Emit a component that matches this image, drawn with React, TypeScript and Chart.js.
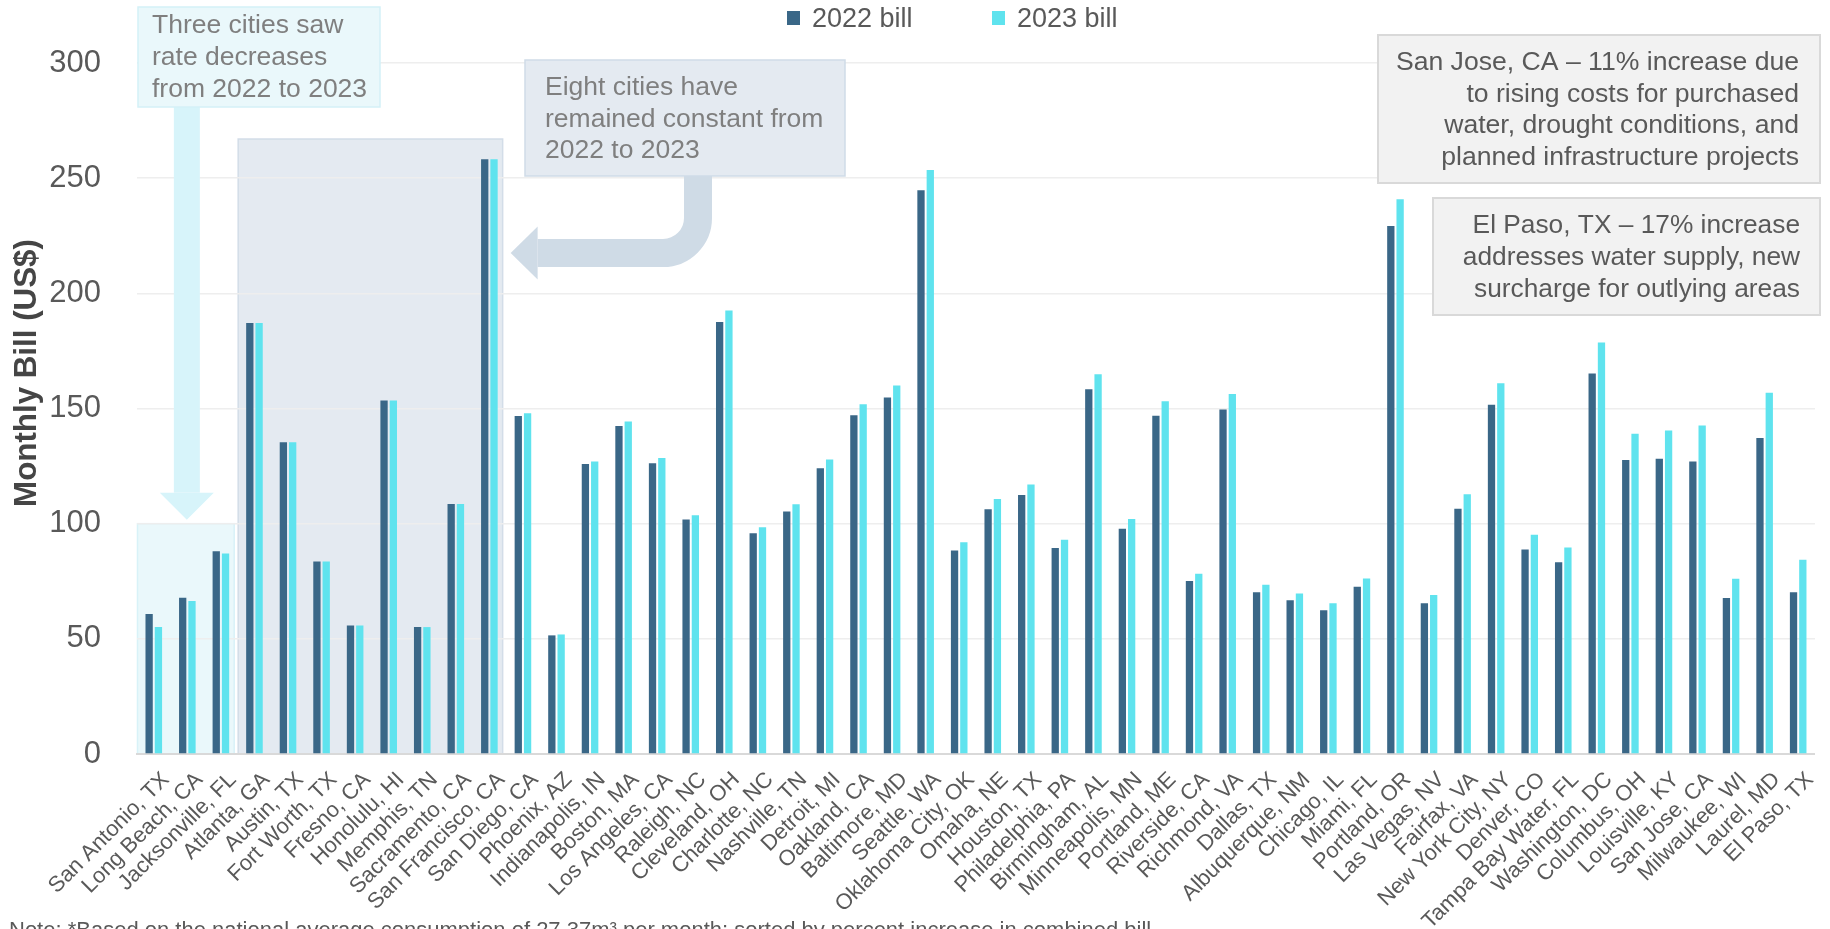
import React, { useEffect, useRef } from "react";
import { Chart, registerables } from "chart.js";

Chart.register(...registerables);

const cities = [
  "San Antonio, TX", "Long Beach, CA", "Jacksonville, FL", "Atlanta, GA", "Austin, TX",
  "Fort Worth, TX", "Fresno, CA", "Honolulu, HI", "Memphis, TN", "Sacramento, CA",
  "San Francisco, CA", "San Diego, CA", "Phoenix, AZ", "Indianapolis, IN", "Boston, MA",
  "Los Angeles, CA", "Raleigh, NC", "Cleveland, OH", "Charlotte, NC", "Nashville, TN",
  "Detroit, MI", "Oakland, CA", "Baltimore, MD", "Seattle, WA", "Oklahoma City, OK",
  "Omaha, NE", "Houston, TX", "Philadelphia, PA", "Birmingham, AL", "Minneapolis, MN",
  "Portland, ME", "Riverside, CA", "Richmond, VA", "Dallas, TX", "Albuquerque, NM",
  "Chicago, IL", "Miami, FL", "Portland, OR", "Las Vegas, NV", "Fairfax, VA",
  "New York City, NY", "Denver, CO", "Tampa Bay Water, FL", "Washington, DC", "Columbus, OH",
  "Louisville, KY", "San Jose, CA", "Milwaukee, WI", "Laurel, MD", "El Paso, TX",
];

const bill2022 = [
  60.8, 67.8, 88.0, 187.1, 135.4, 83.6, 55.8, 153.5, 55.1, 108.5,
  258.2, 146.7, 51.5, 125.9, 142.4, 126.2, 101.8, 187.6, 95.8, 105.3,
  124.1, 147.1, 154.8, 244.8, 88.4, 106.3, 112.4, 89.4, 158.4, 97.8,
  146.8, 75.1, 149.6, 70.2, 66.7, 62.4, 72.6, 229.2, 65.5, 106.5,
  151.6, 88.8, 83.2, 165.2, 127.6, 128.2, 127.0, 67.7, 137.2, 70.2,
];

const bill2023 = [
  55.1, 66.4, 87.1, 187.1, 135.4, 83.6, 55.8, 153.5, 55.1, 108.5,
  258.2, 147.9, 51.9, 127.0, 144.4, 128.5, 103.6, 192.6, 98.4, 108.4,
  127.9, 151.8, 160.0, 253.5, 91.9, 110.7, 117.0, 93.0, 164.9, 102.0,
  153.2, 78.3, 156.3, 73.5, 69.7, 65.4, 76.2, 240.9, 69.0, 112.8,
  161.0, 95.2, 89.6, 178.7, 139.0, 140.5, 142.6, 76.1, 156.8, 84.3,
];

const yTicks = [0, 50, 100, 150, 200, 250, 300];
const seriesNames = ["2022 bill", "2023 bill"];
const seriesColors = ["#3a6787", "#5fe3ee"];

// category index ranges highlighted behind the bars, with the bill level of their top edge
const decreaseRange = [0, 2];
const decreaseTop = 100;
const constantRange = [3, 10];
const constantTop = 267;

const decreaseNote = ["Three cities saw", "rate decreases", "from 2022 to 2023"];
const constantNote = ["Eight cities have", "remained constant from", "2022 to 2023"];
const sanJoseNote = [
  "San Jose, CA \u2013 11% increase due",
  "to rising costs for purchased",
  "water, drought conditions, and",
  "planned infrastructure projects",
];
const elPasoNote = [
  "El Paso, TX \u2013 17% increase",
  "addresses water supply, new",
  "surcharge for outlying areas",
];
const footNote =
  "Note: *Based on the national average consumption of 27.37m\u00b3 per month; sorted by percent increase in combined bill";
const yTitle = "Monthly Bill (US$)";

const FONT = '"Liberation Sans", Arial, Helvetica, sans-serif';
const W = 1830;
const H = 929;

function regionBox(chart: any, range: number[], top: number) {
  const xs = chart.scales.x;
  const ys = chart.scales.y;
  const step = (xs.right - xs.left) / cities.length;
  return {
    left: xs.getPixelForValue(range[0]) - step / 2 + 0.5,
    right: xs.getPixelForValue(range[1]) + step / 2 - 3.5,
    top: ys.getPixelForValue(top),
    bottom: ys.getPixelForValue(0),
  };
}

function panel(ctx: CanvasRenderingContext2D, x: number, y: number, w: number, h: number, fill: string, stroke: string, lw: number) {
  ctx.fillStyle = fill;
  ctx.fillRect(x, y, w, h);
  ctx.strokeStyle = stroke;
  ctx.lineWidth = lw;
  ctx.strokeRect(x, y, w, h);
}

function lines(ctx: CanvasRenderingContext2D, text: string[], x: number, y0: number, step: number, align: CanvasTextAlign, color: string, size: number) {
  ctx.fillStyle = color;
  ctx.font = `${size}px ${FONT}`;
  ctx.textAlign = align;
  ctx.textBaseline = "alphabetic";
  text.forEach((t, i) => ctx.fillText(t, x, y0 + i * step));
}

const backdrop = {
  id: "backdrop",
  beforeDraw(chart: any) {
    const ctx: CanvasRenderingContext2D = chart.ctx;
    ctx.save();
    const d = regionBox(chart, decreaseRange, decreaseTop);
    panel(ctx, d.left, d.top, d.right - d.left, d.bottom - d.top, "#eaf8fb", "#d8f2f8", 1.5);
    const c = regionBox(chart, constantRange, constantTop);
    panel(ctx, c.left, c.top, c.right - c.left, c.bottom - c.top, "#e4eaf1", "#d3dde8", 1.5);
    ctx.restore();
  },
};

const overlay = {
  id: "overlay",
  afterDraw(chart: any) {
    const ctx: CanvasRenderingContext2D = chart.ctx;
    ctx.save();

    // down arrow pointing at the cities with lower bills
    const d = regionBox(chart, decreaseRange, decreaseTop);
    const ax = (d.left + d.right) / 2 + 1;
    const tip = d.top - 4;
    ctx.fillStyle = "#d7f4fa";
    ctx.fillRect(ax - 13, 107, 26, tip - 27 - 107);
    ctx.beginPath();
    ctx.moveTo(ax - 27, tip - 27);
    ctx.lineTo(ax + 27, tip - 27);
    ctx.lineTo(ax, tip);
    ctx.closePath();
    ctx.fill();

    panel(ctx, 138, 7, 242, 100, "#eaf8fb", "#d4f1f7", 1.5);
    lines(ctx, decreaseNote, 152, 33, 32, "left", "#7f7f7f", 26.5);

    // bent arrow from the "constant" note to the highlighted group
    const c = regionBox(chart, constantRange, constantTop);
    const headTip = c.right + 8;
    const headBase = headTip + 27;
    const cx = 698;
    const cy = 253;
    const r = 35;
    ctx.strokeStyle = "#cfdbe6";
    ctx.lineWidth = 28;
    ctx.lineCap = "butt";
    ctx.beginPath();
    ctx.moveTo(cx, 176);
    ctx.lineTo(cx, cy - r);
    ctx.arcTo(cx, cy, cx - r, cy, r);
    ctx.lineTo(headBase, cy);
    ctx.stroke();
    ctx.fillStyle = "#cfdbe6";
    ctx.beginPath();
    ctx.moveTo(headBase, cy - 26.5);
    ctx.lineTo(headTip, cy);
    ctx.lineTo(headBase, cy + 26.5);
    ctx.closePath();
    ctx.fill();

    panel(ctx, 525, 60, 320, 116, "#e4eaf1", "#cfdbe7", 1.5);
    lines(ctx, constantNote, 545, 95, 31.5, "left", "#7f7f7f", 26.5);

    panel(ctx, 1378, 35, 442, 148, "#f2f2f2", "#d9d9d9", 2);
    lines(ctx, sanJoseNote, 1799, 70, 31.7, "right", "#595959", 26.6);

    panel(ctx, 1433, 198, 387, 117, "#f2f2f2", "#d9d9d9", 2);
    lines(ctx, elPasoNote, 1800, 233, 31.8, "right", "#595959", 26.3);

    // legend
    const legendX = [787, 992];
    ctx.font = `27px ${FONT}`;
    ctx.textAlign = "left";
    ctx.textBaseline = "alphabetic";
    seriesNames.forEach((name, i) => {
      ctx.fillStyle = seriesColors[i];
      ctx.fillRect(legendX[i], 11, 13, 14);
      ctx.fillStyle = "#595959";
      ctx.fillText(name, legendX[i] + 25, 27);
    });

    // y axis title
    ctx.save();
    ctx.translate(27, 373);
    ctx.rotate(-Math.PI / 2);
    ctx.font = `bold 31.3px ${FONT}`;
    ctx.fillStyle = "#454545";
    ctx.textAlign = "center";
    ctx.textBaseline = "middle";
    ctx.fillText(yTitle, 0, 0);
    ctx.restore();

    // footnote
    ctx.font = `22px ${FONT}`;
    ctx.fillStyle = "#595959";
    ctx.textAlign = "left";
    ctx.textBaseline = "alphabetic";
    ctx.fillText(footNote, 9, 937);

    ctx.restore();
  },
};

export default function App() {
  const ref = useRef<HTMLCanvasElement>(null);

  useEffect(() => {
    if (!ref.current) return;
    const chart = new Chart(ref.current, {
      type: "bar",
      data: {
        labels: cities,
        datasets: [
          {
            label: seriesNames[0],
            data: bill2022,
            backgroundColor: seriesColors[0],
            borderWidth: 0,
            categoryPercentage: 0.554,
            barPercentage: 0.785,
          },
          {
            label: seriesNames[1],
            data: bill2023,
            backgroundColor: seriesColors[1],
            borderWidth: 0,
            categoryPercentage: 0.554,
            barPercentage: 0.785,
          },
        ],
      },
      options: {
        responsive: false,
        animation: false,
        layout: { padding: { top: 63, right: W - 1815, left: 0, bottom: 0 } },
        plugins: {
          legend: { display: false },
          tooltip: { enabled: false },
          title: { display: false },
        },
        scales: {
          x: {
            grid: { display: false, drawTicks: false },
            border: { display: true, color: "#d9d9d9", width: 2 },
            ticks: {
              autoSkip: false,
              maxRotation: 45,
              minRotation: 45,
              padding: 13,
              labelOffset: 12,
              color: "#595959",
              font: { family: FONT, size: 22 },
            },
            afterFit: (s: any) => {
              s.height = H - 754;
            },
          },
          y: {
            min: 0,
            max: 300,
            afterBuildTicks: (s: any) => {
              s.ticks = yTicks.map((v) => ({ value: v }));
            },
            grid: { color: "#eeeeee", lineWidth: 1.5, drawTicks: false },
            border: { display: false },
            ticks: {
              padding: 36,
              color: "#595959",
              font: { family: FONT, size: 31 },
            },
            afterFit: (s: any) => {
              s.width = 137;
            },
          },
        },
      },
      plugins: [backdrop, overlay],
    });
    return () => chart.destroy();
  }, []);

  return (
    <div style={{ position: "absolute", left: 0, top: 0, width: W, height: H, background: "#fff" }}>
      <canvas ref={ref} width={W} height={H} style={{ display: "block", width: W, height: H }} />
    </div>
  );
}
